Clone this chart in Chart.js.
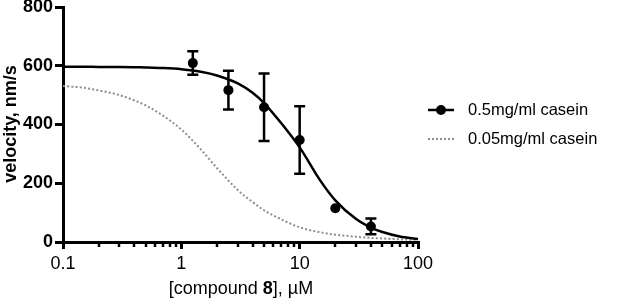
<!DOCTYPE html>
<html>
<head>
<meta charset="utf-8">
<script src="https://cdn.jsdelivr.net/npm/chart.js@4.4.1/dist/chart.umd.min.js"></script>
<style>
  html, body { margin: 0; padding: 0; background: #fff; }
  #wrap { width: 617px; height: 302px; position: relative; }
</style>
</head>
<body>
<div id="wrap"><canvas id="c" width="617" height="302"></canvas></div>
<script>
// ---- data ----
const seriesNames = ["0.5mg/ml casein", "0.05mg/ml casein"];
const concentrations = [1.25, 2.5, 5, 10, 20, 40];          // µM
const velocityMean = [609, 517, 459, 347, 115, 53];          // nm/s
const velocityErr = [40, 66, 115, 115, 0, 27];               // nm/s (error bar half-length)
const fitX = [0.1, 0.15, 0.2, 0.3, 0.5, 0.7, 1, 1.5, 2, 3, 4, 5, 7, 10, 15, 20, 30, 40, 50, 70, 100];
const fitHigh = [597, 597, 596, 596, 594, 592, 588, 579, 567, 540, 508, 473, 404, 322, 208, 142, 78, 49, 34, 19, 10];
const fitLow = [531, 525, 516, 500, 465, 430, 383, 310, 252, 177, 136, 108, 77, 50, 33, 25, 18, 14, 12, 9, 7];
const xMajorTicks = [0.1, 1, 10, 100];
const xMinorTicks = [0.2,0.3,0.4,0.5,0.6,0.7,0.8,0.9,2,3,4,5,6,7,8,9,20,30,40,50,60,70,80,90];
const yTicks = [0, 200, 400, 600, 800];
const yTitle = "velocity, nm/s";
const xTitleParts = [["[compound ", false], ["8", true], ["], µM", false]];

const FONT = "'Liberation Sans', Arial, Helvetica, sans-serif";
const GRAY = '#8e8e8e';

const extras = {
  id: 'extras',
  afterDatasetsDraw(chart) {
    const ctx = chart.ctx, xs = chart.scales.x, ys = chart.scales.y;
    ctx.save();
    // error bars
    ctx.strokeStyle = '#000'; ctx.lineWidth = 2.5; ctx.lineCap = 'butt';
    concentrations.forEach((c, i) => {
      if (!velocityErr[i]) return;
      const px = xs.getPixelForValue(c);
      const top = ys.getPixelForValue(velocityMean[i] + velocityErr[i]);
      const bot = ys.getPixelForValue(velocityMean[i] - velocityErr[i]);
      ctx.beginPath();
      ctx.moveTo(px, top); ctx.lineTo(px, bot);
      ctx.moveTo(px - 5.5, top); ctx.lineTo(px + 5.5, top);
      ctx.moveTo(px - 5.5, bot); ctx.lineTo(px + 5.5, bot);
      ctx.stroke();
    });
    // minor x ticks
    ctx.lineWidth = 2.5;
    const yb = ys.getPixelForValue(0);
    xMinorTicks.forEach(v => {
      const px = Math.round(xs.getPixelForValue(v));
      ctx.beginPath(); ctx.moveTo(px, yb); ctx.lineTo(px, yb + 5); ctx.stroke();
    });
    ctx.restore();
  },
  afterDraw(chart) {
    const ctx = chart.ctx;
    ctx.save();
    // y title
    ctx.translate(11, 124);
    ctx.rotate(-Math.PI / 2);
    ctx.font = "bold 18px " + FONT;
    ctx.fillStyle = '#000';
    ctx.textAlign = 'center'; ctx.textBaseline = 'middle';
    ctx.fillText(yTitle, 0, 0);
    ctx.restore();

    // x title with bold "8"
    ctx.save();
    ctx.fillStyle = '#000'; ctx.textBaseline = 'middle'; ctx.textAlign = 'left';
    let total = 0;
    xTitleParts.forEach(([t, b]) => { ctx.font = (b ? "bold " : "") + "18px " + FONT; total += ctx.measureText(t).width; });
    let x = 241 - total / 2;
    xTitleParts.forEach(([t, b]) => { ctx.font = (b ? "bold " : "") + "18px " + FONT; ctx.fillText(t, x, 289); x += ctx.measureText(t).width; });
    ctx.restore();

    // legend
    ctx.save();
    ctx.strokeStyle = '#000'; ctx.lineWidth = 2.5;
    ctx.beginPath(); ctx.moveTo(428, 110); ctx.lineTo(454, 110); ctx.stroke();
    ctx.fillStyle = '#000';
    ctx.beginPath(); ctx.arc(441, 110, 5, 0, Math.PI * 2); ctx.fill();
    ctx.strokeStyle = GRAY; ctx.lineWidth = 2; ctx.setLineDash([2, 2]);
    ctx.beginPath(); ctx.moveTo(428, 139); ctx.lineTo(455, 139); ctx.stroke();
    ctx.setLineDash([]);
    ctx.font = "16.5px " + FONT; ctx.fillStyle = '#000';
    ctx.textAlign = 'left'; ctx.textBaseline = 'middle';
    ctx.fillText(seriesNames[0], 468, 110);
    ctx.fillText(seriesNames[1], 468, 139);
    ctx.restore();
  }
};

new Chart(document.getElementById('c'), {
  type: 'line',
  data: {
    datasets: [
      {
        label: seriesNames[1],
        data: fitX.map((x, i) => ({ x, y: fitLow[i] })),
        borderColor: GRAY, borderWidth: 2, borderDash: [2, 2.2],
        pointRadius: 0, cubicInterpolationMode: 'monotone', fill: false, order: 3
      },
      {
        label: seriesNames[0] + ' fit',
        data: fitX.map((x, i) => ({ x, y: fitHigh[i] })),
        borderColor: '#000', borderWidth: 2.5,
        pointRadius: 0, cubicInterpolationMode: 'monotone', fill: false, order: 2
      },
      {
        label: seriesNames[0],
        data: concentrations.map((x, i) => ({ x, y: velocityMean[i] })),
        showLine: false, pointRadius: 5, pointBackgroundColor: '#000',
        pointBorderColor: '#000', pointBorderWidth: 0, order: 1
      }
    ]
  },
  options: {
    responsive: false,
    animation: false,
    events: [],
    layout: { padding: { left: 0, top: 7, right: 199, bottom: 0 } },
    plugins: { legend: { display: false }, tooltip: { enabled: false } },
    scales: {
      x: {
        type: 'logarithmic', min: 0.1, max: 100,
        afterBuildTicks: s => { s.ticks = xMajorTicks.map(v => ({ value: v })); },
        afterFit: s => { s.height = 60; s.paddingLeft = 0; s.paddingRight = 0; },
        border: { display: true, width: 3, color: '#000' },
        grid: { drawOnChartArea: false, drawTicks: true, tickLength: 7, lineWidth: 3, color: '#000' },
        ticks: {
          autoSkip: false, maxRotation: 0, padding: 4, color: '#000',
          font: { family: FONT, size: 18 },
          callback: v => String(v)
        }
      },
      y: {
        min: 0, max: 800,
        afterBuildTicks: s => { s.ticks = yTicks.map(v => ({ value: v })); },
        afterFit: s => { s.width = 63; s.paddingTop = 0; s.paddingBottom = 0; },
        border: { display: true, width: 3, color: '#000' },
        grid: { drawOnChartArea: false, drawTicks: true, tickLength: 8, lineWidth: 3, color: '#000' },
        ticks: {
          padding: 2, color: '#000',
          font: { family: FONT, size: 18, weight: 'bold' }
        }
      }
    }
  },
  plugins: [extras]
});
</script>
</body>
</html>
